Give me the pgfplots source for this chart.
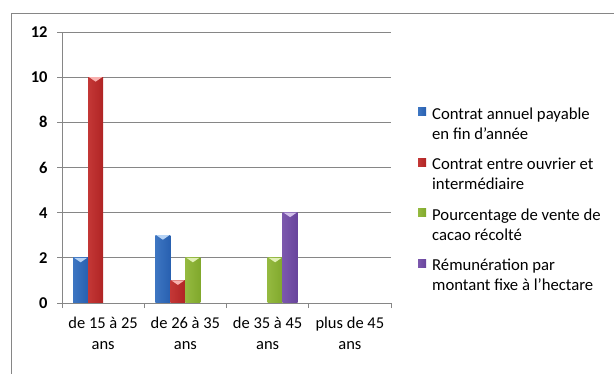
\documentclass[border=0pt]{standalone}
\usepackage{pgfplots}
\pgfplotsset{compat=1.18}
\usetikzlibrary{shapes.geometric}
\usepackage{fontspec}
\setmainfont{Carlito}

% bar colours: light centre and darker edges of each rounded bar
\definecolor{bluL}{RGB}{110,168,236}
\definecolor{bluD}{RGB}{40,96,176}
\definecolor{redL}{RGB}{240,100,96}
\definecolor{redD}{RGB}{176,36,36}
\definecolor{grnL}{RGB}{196,226,110}
\definecolor{grnD}{RGB}{128,168,44}
\definecolor{purL}{RGB}{168,132,212}
\definecolor{purD}{RGB}{104,68,156}
\definecolor{gridc}{RGB}{134,134,134}
\definecolor{framec}{RGB}{134,134,134}

% one rounded bar with a light bevel on its top
\pgfplotsset{
  cylbar/.style n args={3}{
    draw=none, bar shift=#1,
    left color=#3!70!#2, middle color=#2, right color=#3,
    nodes near coords={},
    every node near coord/.style={anchor=north, inner sep=0pt, outer sep=0pt,
      xshift=#1, shade=false,
      shape=isosceles triangle, shape border rotate=-90,
      isosceles triangle stretches, minimum width=13bp, minimum height=4.5bp,
      fill=#2!50!white, draw=none},
  },
}

\begin{document}
\begin{tikzpicture}
\path[use as bounding box] (0,0) rectangle (614bp,374bp);
\draw[framec, line width=0.8bp] (11bp,0) -- (11bp,361bp) -- (614bp,361bp);
\begin{axis}[
  at={(62bp,71bp)}, anchor=south west,
  scale only axis, width=329bp, height=271bp,
  xmin=-0.5, xmax=3.5, ymin=0, ymax=12,
  ytick={0,2,...,12},
  xtick={0,1,2,3},
  xticklabels={{de 15 à 25\\ans},{de 26 à 35\\ans},{de 35 à 45\\ans},{plus de 45\\ans}},
  x tick label style={align=center, font=\fontsize{16.5bp}{21bp}\selectfont, yshift=-6bp},
  y tick label style={font=\bfseries\fontsize{16.5bp}{19bp}\selectfont, xshift=-6bp},
  /pgf/number format/assume math mode=true,
  major x tick style={draw=none},
  minor xtick={-0.5,0.5,1.5,2.5,3.5},
  minor x tick style={gridc, line width=0.8bp},
  minor tick length=5bp,
  major tick length=5bp,
  tick align=outside,
  ytick style={gridc, line width=0.8bp},
  ymajorgrids, grid style={gridc, line width=0.8bp},
  axis x line*=bottom, axis y line*=left,
  axis line style={gridc, line width=0.8bp, -},
  ybar=0pt, bar width=15bp,
  legend cell align=left,
  legend style={at={(1.082,0.73)}, anchor=north west, draw=none, fill=none,
    inner sep=0pt, row sep=13bp,
    font=\fontsize{16.7bp}{20bp}\selectfont,
    cells={align=left}},
  legend image code/.code={
    \path[shade=false, draw=none, fill=none] (0bp,-12.5bp) -- (12bp,19bp);
    \path[#1] (0bp,8.8bp) rectangle (8bp,16.8bp);},
]
% Contrat annuel payable en fin d'année
\addplot[cylbar={-22.5bp}{bluL}{bluD}] coordinates {(0,2)};
\addlegendentry{Contrat annuel payable\\en fin d'année}
\addplot[cylbar={-22.5bp}{bluL}{bluD}, forget plot] coordinates {(1,3)};
% Contrat entre ouvrier et intermédiaire
\addplot[cylbar={-7.5bp}{redL}{redD}] coordinates {(0,10)};
\addlegendentry{Contrat entre ouvrier et\\intermédiaire}
\addplot[cylbar={-7.5bp}{redL}{redD}, forget plot] coordinates {(1,1)};
% Pourcentage de vente de cacao récolté
\addplot[cylbar={7.5bp}{grnL}{grnD}] coordinates {(1,2)};
\addlegendentry{Pourcentage de vente de\\cacao récolté}
\addplot[cylbar={7.5bp}{grnL}{grnD}, forget plot] coordinates {(2,2)};
% Rémunération par montant fixe à l'hectare
\addplot[cylbar={22.5bp}{purL}{purD}] coordinates {(2,4)};
\addlegendentry{Rémunération par\\montant fixe à l'hectare}
\end{axis}
\end{tikzpicture}
\end{document}
